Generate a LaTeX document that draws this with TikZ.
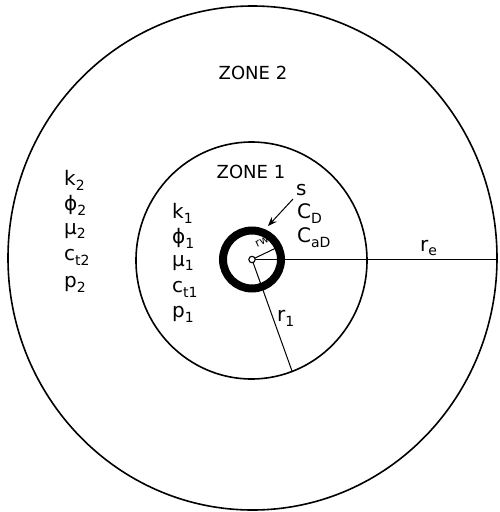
\documentclass[tikz,border=0pt]{standalone}
\usepackage{fontspec}
\setmainfont{DejaVu Sans}
\usetikzlibrary{arrows.meta}
\newcommand{\sbs}[1]{\raisebox{-0.45ex}{\fontsize{14}{14}\selectfont #1}}
\tikzset{
  lab/.style={font=\fontsize{20}{20}\selectfont, inner sep=0pt, anchor=west},
  zone/.style={font=\fontsize{18}{18}\selectfont, inner sep=0pt},
  thin line/.style={line width=1pt},
  circ/.style={line width=1.6pt},
}
\begin{document}
\begin{tikzpicture}[x=1pt,y=-1pt]
\useasboundingbox (0,0) rectangle (500,512);
\coordinate (c) at (252,259.5);
% zone boundaries
\draw[circ] (252.5,258) ellipse [x radius=244.5pt, y radius=252pt];
\draw[circ] (251.5,260.5) ellipse [x radius=115.5pt, y radius=118.5pt];
% well
\draw[line width=8pt] (c) circle [radius=29pt];
\coordinate (e) at (497,259.5);
\coordinate (r1end) at (292,371);
\coordinate (rwend) at (276,248);
\draw[thin line] (c) -- (e);
\draw[thin line] (c) -- (r1end);
\draw[thin line] (c) -- (rwend);
\draw[line width=1.1pt, fill=white] (c) circle [radius=3.2pt];
% labels
\node[zone] (z2) at (253,73) {ZONE 2};
\node[zone] (z1) at (251,172) {ZONE 1};
\node[lab] (k2) at (64,180) {k\sbs{2}};
\node[lab] (phi2) at (64,205) {ϕ\sbs{2}};
\node[lab] (mu2) at (64,231) {μ\sbs{2}};
\node[lab] (ct2) at (64,257) {c\sbs{t2}};
\node[lab] (p2) at (64,284) {p\sbs{2}};
\node[lab] (k1) at (172,213) {k\sbs{1}};
\node[lab] (phi1) at (172,238) {ϕ\sbs{1}};
\node[lab] (mu1) at (172,263) {μ\sbs{1}};
\node[lab] (ct1) at (172,289) {c\sbs{t1}};
\node[lab] (p1) at (172,314) {p\sbs{1}};
\node[lab] (s) at (296,190) {s};
\node[lab] (cd) at (297,214) {C\sbs{D}};
\node[lab] (cad) at (297,238) {C\sbs{aD}};
\node[lab] (re) at (420,248) {r\sbs{e}};
\node[lab] (r1) at (277,318) {r\sbs{1}};
\node[font=\fontsize{11}{11}\selectfont, inner sep=0pt, rotate=25] (rw) at (262,242) {rw};
\coordinate (atail) at (293,199);
\coordinate (ahead) at (268,226);
\draw[thin line, -{Stealth[length=9pt,width=7pt]}] (atail) -- (ahead);
\end{tikzpicture}
\end{document}
